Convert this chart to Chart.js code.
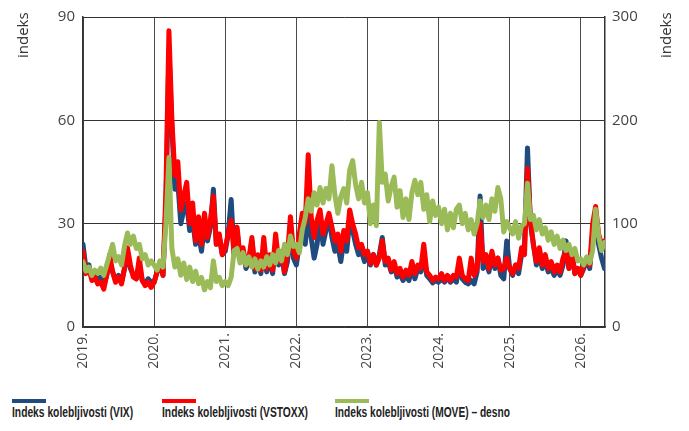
<!DOCTYPE html>
<html>
<head>
<meta charset="utf-8">
<script src="https://cdn.jsdelivr.net/npm/chart.js@4.4.1/dist/chart.umd.min.js"></script>
<style>
    body { margin: 0; background: #fff; width: 689px; height: 431px; overflow: hidden; position: relative; font-family: 'Open Sans', sans-serif; }
    #wrap { position: absolute; left: 0; top: 0; width: 689px; height: 380px; }
    .ytitle { position: absolute; top: 58px; font-size: 15px; line-height: 15px; color: #333; transform-origin: left top; transform: rotate(-90deg); white-space: nowrap; }
    .legend-item { position: absolute; top: 399px; }
    .swatch { width: 34px; height: 4px; }
    .label { position: absolute; top: 5px; left: 0; white-space: nowrap; font-family: 'Liberation Sans', Arial, sans-serif; font-weight: bold; font-size: 15px; line-height: 15px; color: #222; transform-origin: left top; }
</style>
</head>
<body>
<div id="wrap"><canvas id="chart" width="689" height="380"></canvas></div>
<div class="ytitle" style="left:15px">indeks</div>
<div class="ytitle" style="left:658px">indeks</div>
<div id="legend"></div>
<script>
// Semi-monthly observations, starting January 2019
const startYear = 2019;
const pointsPerYear = 24;

// Indeks kolebljivosti (VIX) - left axis
const vix = [
    24, 17, 18, 14, 15.5, 13, 14.5, 12, 15, 19, 16, 13.5, 15, 13, 17, 21, 17, 15, 14, 18, 13.5, 12.5, 14, 13,
    13, 16, 18, 15, 36, 80, 58, 40, 42, 30, 34, 36, 28, 31, 24, 27, 22, 30, 25, 29, 40, 24, 26, 21,
    22, 27, 37, 21, 28, 20, 22, 17, 19, 25, 16, 20, 15.5, 22, 16, 20, 15.5, 24, 18, 21, 15.5, 19, 30, 20,
    18, 24, 28, 24, 33, 26, 20, 24, 32, 24, 28, 32, 26, 22, 24, 19, 25, 22, 31, 28, 24, 21, 22, 19,
    22, 18, 21, 18, 21, 26, 18, 19, 16, 18, 14.5, 15.5, 13.5, 15, 13.5, 17, 14, 17, 16, 21, 15, 14, 12.8, 13.5,
    13, 14, 13, 14.5, 13, 14, 13, 18, 14, 13, 12.5, 13.5, 12.5, 16, 38, 17, 19, 16, 21, 17, 20, 15, 14, 25,
    17, 15, 18, 15.5, 21, 24, 52, 30, 24, 18, 21, 17, 19, 16, 17, 15, 16.5, 15, 18, 25, 17, 22, 15.5, 17,
    15, 17, 20, 17, 27, 30, 24, 20, 17
];

// Indeks kolebljivosti (VSTOXX) - left axis
const vstoxx = [
    22, 15.5, 17, 13.5, 14.5, 12.5, 13, 11, 15, 21, 16, 13, 14.5, 12.5, 17, 23, 18, 14.5, 14, 20, 13.5, 12, 13, 11.5,
    13, 16, 19, 15, 40, 86, 60, 44, 48, 34, 38, 42, 30, 36, 25, 32, 24, 33, 26, 31, 38, 24, 27, 21,
    23, 27, 31, 21, 29, 20, 23, 18, 20, 26, 17, 21, 16.5, 26, 17, 21, 16.5, 27, 19, 22, 16, 21, 32, 22,
    20, 27, 33, 30, 50, 32, 26, 31, 34, 27, 30, 33, 29, 25, 27, 22, 28, 25, 34, 30, 27, 23, 24, 21,
    22, 18.5, 21, 18, 20, 25, 19, 20, 16.5, 19, 15.5, 17, 14.5, 16.5, 15, 19, 15.5, 18, 17, 24, 16, 15, 13.5, 14.5,
    14, 15.5, 13.5, 15, 13.5, 15, 14.5, 20, 15, 14, 13.5, 20, 15, 17, 30, 19, 21, 17, 22, 18, 20, 16.5, 17, 20,
    17, 15.5, 18, 17, 23, 21, 46, 31, 24, 19, 23, 18, 21, 17, 19, 16, 18, 16, 20, 22, 17, 21, 15.5, 17,
    15, 18, 20, 18, 30, 35, 27, 24, 25
];

// Indeks kolebljivosti (MOVE) - right axis
const move = [
    63, 54, 58, 50, 55, 52, 57, 50, 60, 70, 80, 64, 68, 60, 78, 91, 80, 88, 76, 80, 66, 70, 60, 64,
    60, 55, 64, 58, 100, 164, 76, 58, 66, 50, 62, 46, 58, 44, 54, 42, 48, 36, 44, 38, 64, 44, 48, 40,
    44, 40, 48, 74, 76, 62, 72, 60, 68, 58, 66, 56, 64, 58, 68, 60, 70, 62, 74, 64, 80, 70, 88, 78,
    80, 72, 94, 106, 124, 112, 130, 118, 135, 120, 134, 124, 156, 128, 110, 126, 134, 120, 152, 161, 138, 124, 140, 120,
    130, 100, 118, 98, 198, 140, 148, 122, 136, 145, 116, 132, 106, 124, 104, 130, 142, 128, 140, 114, 128, 102, 122, 108,
    116, 100, 114, 94, 110, 96, 114, 118, 100, 110, 94, 104, 90, 100, 122, 106, 118, 104, 124, 112, 135, 124, 92, 102,
    96, 90, 102, 86, 98, 100, 139, 104, 108, 94, 104, 90, 96, 84, 92, 80, 88, 76, 84, 74, 80, 70, 76, 64,
    66, 60, 68, 62, 74, 114, 88, 74, 82
];

const seriesLabels = ['Indeks kolebljivosti (VIX)', 'Indeks kolebljivosti (VSTOXX)', 'Indeks kolebljivosti (MOVE) \u2013 desno'];
const seriesColors = ['#1f4b7e', '#ff0000', '#9bbb59'];

const leftTicks = [0, 30, 60, 90];
const rightTicks = [0, 100, 200, 300];

// Pair each value with its date position on the time axis
function toPoints(values) {
    return values.map((v, i) => ({ x: startYear + i / pointsPerYear, y: v }));
}

const tickFont = { family: "'Open Sans', sans-serif", size: 15 };

new Chart(document.getElementById('chart').getContext('2d'), {
    type: 'line',
    data: {
        datasets: [
            { label: seriesLabels[0], data: toPoints(vix), borderColor: seriesColors[0], yAxisID: 'y', order: 3 },
            { label: seriesLabels[1], data: toPoints(vstoxx), borderColor: seriesColors[1], yAxisID: 'y', order: 2 },
            { label: seriesLabels[2], data: toPoints(move), borderColor: seriesColors[2], yAxisID: 'y2', order: 1 }
        ]
    },
    options: {
        responsive: false,
        animation: false,
        devicePixelRatio: 1,
        layout: { padding: { top: 16, left: 0, right: 0, bottom: 0 } },
        elements: {
            line: { borderWidth: 5, tension: 0, borderJoinStyle: 'round', borderCapStyle: 'round', fill: false },
            point: { radius: 0 }
        },
        plugins: { legend: { display: false }, tooltip: { enabled: false } },
        scales: {
            x: {
                type: 'linear',
                min: 2019,
                max: 2026.34,
                grid: { color: '#4a4a4a', lineWidth: 1, drawTicks: false },
                border: { color: '#333', width: 1.5 },
                ticks: {
                    stepSize: 1,
                    includeBounds: false,
                    autoSkip: false,
                    maxRotation: 90,
                    minRotation: 90,
                    padding: 6,
                    color: '#444',
                    font: { family: "'Open Sans', sans-serif", size: 14 },
                    callback: v => Number.isInteger(v) ? v + '.' : null
                },
                afterFit: scale => { scale.height = 53; }
            },
            y: {
                position: 'left',
                min: leftTicks[0],
                max: leftTicks[leftTicks.length - 1],
                grid: { color: '#333', lineWidth: 1, drawTicks: false },
                border: { color: '#333', width: 1.5 },
                ticks: { stepSize: 30, padding: 8, color: '#444', font: tickFont },
                afterFit: scale => { scale.width = 83; }
            },
            y2: {
                position: 'right',
                min: rightTicks[0],
                max: rightTicks[rightTicks.length - 1],
                grid: { display: false, drawTicks: false },
                border: { color: '#333', width: 1.5 },
                ticks: { stepSize: 100, padding: 7, color: '#444', font: tickFont },
                afterFit: scale => { scale.width = 84; }
            }
        }
    }
});

// Legend: line swatch above each label, labels squeezed to the condensed width of the original
const legendPos = [12, 162, 335];
const legendWidths = [121, 146, 175];
const legend = document.getElementById('legend');
seriesLabels.forEach((text, i) => {
    const item = document.createElement('div');
    item.className = 'legend-item';
    item.style.left = legendPos[i] + 'px';
    const sw = document.createElement('div');
    sw.className = 'swatch';
    sw.style.background = seriesColors[i];
    const lab = document.createElement('div');
    lab.className = 'label';
    lab.textContent = text;
    item.appendChild(sw);
    item.appendChild(lab);
    legend.appendChild(item);
    const w = lab.getBoundingClientRect().width;
    lab.style.transform = 'scaleX(' + (legendWidths[i] / w).toFixed(3) + ')';
});
</script>
</body>
</html>
